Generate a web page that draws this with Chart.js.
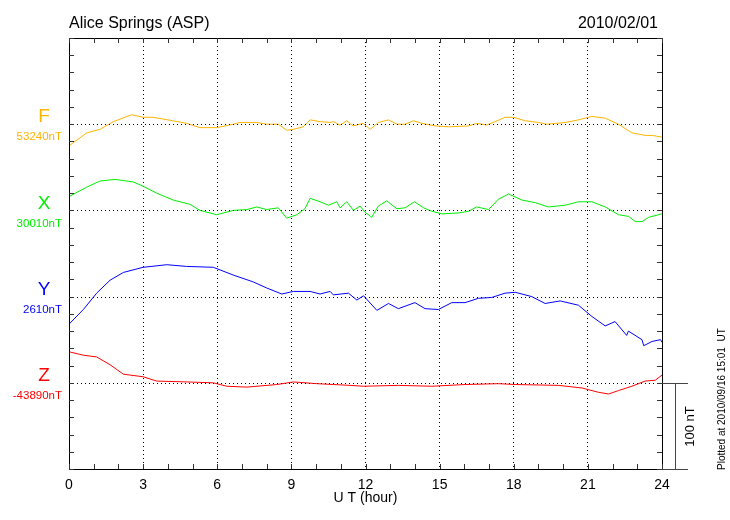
<!DOCTYPE html>
<html><head><meta charset="utf-8">
<script src="https://cdn.jsdelivr.net/npm/chart.js@4.4.1/dist/chart.umd.min.js"></script>
<style>html,body{margin:0;padding:0;background:#fff}#wrap{width:730px;height:520px}</style>
</head><body><div id="wrap"><canvas id="c"></canvas></div>
<script>
// ---- data (hours UT, values in nT) ----
const hourTicks = [0, 3, 6, 9, 12, 15, 18, 21, 24];
const components = ['F', 'X', 'Y', 'Z'];
const baselines = [53240, 30010, 2610, -43890];
const compColors = ['#FFB400', '#00EE00', '#0000FF', '#FF0000'];

const fTimes = [0,0.72,1.25,1.8,2.54,3.0,3.4,4.2,4.76,5.3,5.98,6.65,6.9,7.6,8.0,8.47,8.81,9.07,9.48,9.76,10.16,10.57,10.7,10.97,11.24,11.5,11.9,12.19,12.52,12.93,13.27,13.6,13.94,14.28,14.82,15.36,16.17,16.5,16.9,17.25,17.65,18.0,18.46,19.0,19.34,20.08,20.62,21.16,21.7,22.24,22.78,23.32,23.6,24];
const fValues = [53215,53230,53234,53243,53251,53248,53248,53244,53241,53236,53236,53240,53242,53242,53240,53240,53233,53234,53237,53245,53243,53242,53243,53239,53244,53238,53241,53234,53242,53245,53240,53240,53244,53241,53238,53237,53238,53241,53239,53243,53248,53248,53244,53242,53240,53242,53245,53249,53247,53240,53230,53227,53227,53225];

const xTimes = [0,0.72,1.25,1.86,2.6,3.0,3.55,4.22,4.9,5.3,5.98,6.65,7.2,7.6,8.0,8.47,8.81,9.22,9.55,9.76,10.16,10.5,10.84,10.97,11.24,11.51,11.78,11.98,12.25,12.52,12.86,13.27,13.6,13.98,14.35,14.68,15.09,15.76,16.17,16.5,16.98,17.38,17.79,18.33,18.87,19.4,20.08,20.62,21.16,21.7,22.24,22.65,22.92,23.19,23.46,24];
const xValues = [30026,30037,30044,30046,30043,30038,30030,30022,30017,30010,30005,30010,30011,30014,30011,30013,30001,30005,30012,30024,30020,30016,30020,30013,30020,30010,30015,30008,30002,30015,30021,30012,30013,30020,30013,30009,30006,30007,30009,30014,30011,30023,30029,30022,30019,30014,30016,30020,30020,30014,30005,30003,29997,29997,30002,30006];

const yTimes = [0,0.58,1.12,1.66,2.2,3.0,3.96,4.76,5.84,6.65,7.46,8.0,8.61,9.08,9.76,10.16,10.57,10.7,11.31,11.65,11.92,12.46,12.93,13.33,14.0,14.41,14.95,15.49,16.03,16.57,17.11,17.65,18.06,18.73,19.27,19.88,20.62,21.16,21.7,22.1,22.57,22.64,23.19,23.26,23.6,23.94,24];
const yValues = [2578,2595,2614,2629,2638,2644,2647,2645,2644,2635,2627,2620,2613,2616,2616,2613,2616,2612,2614,2606,2611,2594,2602,2596,2603,2596,2595,2603,2603,2608,2609,2614,2615,2610,2602,2605,2600,2587,2576,2581,2565,2570,2560,2553,2558,2560,2557];

const zTimes = [0,0.58,1.12,1.66,2.2,3.0,3.55,4.76,5.84,6.38,7.2,8.41,9.08,10.03,10.7,11.38,11.92,13.33,14.68,16.03,17.38,18.06,19.81,20.76,21.43,21.84,22.24,22.78,23.32,23.73,24];
const zValues = [-43854,-43858,-43860,-43869,-43880,-43883,-43888,-43889,-43890,-43894,-43895,-43892,-43889,-43891,-43892,-43893,-43894,-43893,-43894,-43892,-43891,-43892,-43893,-43896,-43901,-43903,-43899,-43894,-43888,-43887,-43881];

// panel offsets on the common nT scale (100 nT per panel)
const panelOffsets = [400, 300, 200, 100];
const allTimes = [fTimes, xTimes, yTimes, zTimes];
const allValues = [fValues, xValues, yValues, zValues];

const datasets = components.map((c, i) => ({
  label: c,
  data: allTimes[i].map((t, k) => ({x: t, y: panelOffsets[i] + (allValues[i][k] - baselines[i])})),
  borderColor: compColors[i],
  borderWidth: 1,
  pointRadius: 0,
  tension: 0,
  fill: false
}));

const FONT = '"Liberation Sans", Arial, Helvetica, sans-serif';

const deco = {
  id: 'deco',
  afterDraw(chart) {
    const ctx = chart.ctx, a = chart.chartArea;
    const xs = chart.scales.x, ys = chart.scales.y;
    ctx.save();
    ctx.lineWidth = 1;
    // baseline dotted lines
    ctx.strokeStyle = '#000';
    ctx.setLineDash([1, 3]);
    panelOffsets.forEach(o => {
      const y = Math.round(ys.getPixelForValue(o)) + 0.5;
      ctx.beginPath(); ctx.moveTo(a.left, y); ctx.lineTo(a.right, y); ctx.stroke();
    });
    ctx.setLineDash([]);
    // frame
    ctx.strokeStyle = '#000';
    ctx.strokeRect(Math.round(a.left) + 0.5, Math.round(a.top) + 0.5, Math.round(a.right - a.left), Math.round(a.bottom - a.top));
    // hour ticks top & bottom
    ctx.strokeStyle = '#333';
    for (let h = 0; h <= 24; h++) {
      const x = Math.round(xs.getPixelForValue(h)) + 0.5;
      ctx.beginPath();
      ctx.moveTo(x, a.top); ctx.lineTo(x, a.top + 5);
      ctx.moveTo(x, a.bottom); ctx.lineTo(x, a.bottom - 5);
      ctx.stroke();
    }
    // nT ticks left & right every 20
    for (let v = 0; v <= 500; v += 20) {
      const y = Math.round(ys.getPixelForValue(v)) + 0.5;
      ctx.beginPath();
      ctx.moveTo(a.left, y); ctx.lineTo(a.left + 5, y);
      ctx.moveTo(a.right, y); ctx.lineTo(a.right - 5, y);
      ctx.stroke();
    }
    // scale bar 100 nT
    ctx.strokeStyle = '#444';
    const yz = Math.round(ys.getPixelForValue(100)) + 0.5;
    const y0 = Math.round(ys.getPixelForValue(0)) + 0.5;
    ctx.beginPath();
    ctx.moveTo(a.right, yz); ctx.lineTo(a.right + 26, yz);
    ctx.moveTo(a.right, y0); ctx.lineTo(a.right + 26, y0);
    ctx.moveTo(a.right + 13.5, yz); ctx.lineTo(a.right + 13.5, y0);
    ctx.stroke();
    // left component labels
    components.forEach((c, i) => {
      const y = ys.getPixelForValue(panelOffsets[i]);
      ctx.fillStyle = compColors[i];
      ctx.textAlign = 'center'; ctx.textBaseline = 'middle';
      ctx.font = '19px ' + FONT;
      ctx.fillText(c, 44, y - 7);
      ctx.textAlign = 'right';
      ctx.font = '11.5px ' + FONT;
      ctx.fillText(baselines[i] + 'nT', 62, y + 13);
    });
    // titles
    ctx.fillStyle = '#000';
    ctx.textBaseline = 'alphabetic';
    ctx.font = '16px ' + FONT;
    ctx.textAlign = 'left';
    ctx.fillText('Alice Springs (ASP)', 69, 28);
    ctx.textAlign = 'right';
    ctx.fillText('2010/02/01', 658, 28);
    // rotated texts
    ctx.save();
    ctx.translate(a.right + 28, (yz + y0) / 2);
    ctx.rotate(-Math.PI / 2);
    ctx.textAlign = 'center'; ctx.textBaseline = 'middle';
    ctx.font = '13px ' + FONT;
    ctx.fillText('100 nT', 0, 0);
    ctx.restore();
    ctx.save();
    ctx.translate(722, 470);
    ctx.rotate(-Math.PI / 2);
    ctx.textAlign = 'left'; ctx.textBaseline = 'middle';
    ctx.font = '10px ' + FONT;
    ctx.fillText('Plotted at 2010/09/16 15:01  UT', 0, 0);
    ctx.restore();
    ctx.restore();
  }
};

new Chart(document.getElementById('c'), {
  type: 'line',
  data: {datasets},
  options: {
    responsive: true,
    maintainAspectRatio: false,
    animation: false,
    layout: {padding: {left: 69, right: 68, top: 38, bottom: 13}},
    plugins: {legend: {display: false}, tooltip: {enabled: false}},
    scales: {
      x: {
        type: 'linear', min: 0, max: 24,
        afterBuildTicks: (s) => { s.ticks = hourTicks.map(v => ({value: v})); },
        afterFit: (s) => { s.height = 38; },
        grid: {color: '#000', lineWidth: 1, drawTicks: false},
        border: {display: false, dash: [1, 3]},
        ticks: {color: '#000', font: {family: FONT, size: 14}, padding: 8, maxRotation: 0, autoSkip: false},
        title: {display: true, text: 'U T (hour)', color: '#000', font: {family: FONT, size: 14}, padding: {top: 0, bottom: 0}}
      },
      y: {
        type: 'linear', min: 0, max: 500, display: false
      }
    }
  },
  plugins: [deco]
});
</script>
</body></html>
